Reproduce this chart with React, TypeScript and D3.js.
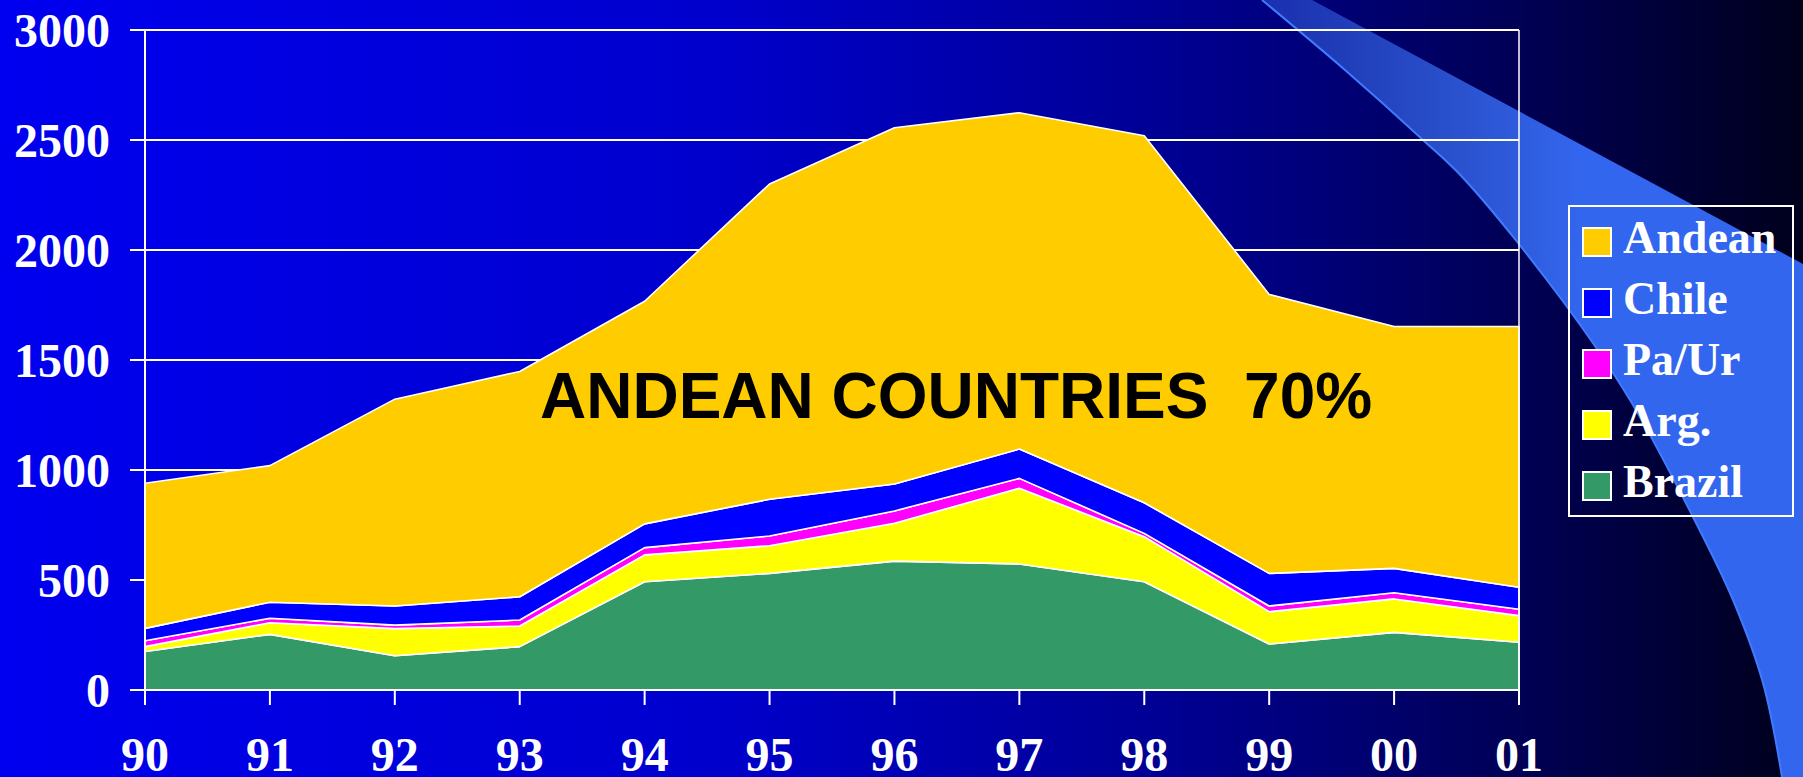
import React, { useEffect, useRef } from "react";
import * as d3 from "d3";

// values (thousands, stacked bottom -> top)
const years = ["90", "91", "92", "93", "94", "95", "96", "97", "98", "99", "00", "01"];
const brazil = [175, 253, 156, 197, 492, 530, 586, 573, 492, 209, 262, 217];
const arg = [22, 53, 123, 94, 122, 126, 172, 344, 205, 147, 152, 121];
const paur = [27, 20, 16, 27, 33, 44, 56, 45, 15, 26, 28, 29];
const chile = [56, 73, 87, 106, 108, 167, 122, 133, 139, 148, 111, 100];
const andean = [660, 621, 940, 1024, 1012, 1433, 1620, 1529, 1668, 1268, 1099, 1185];
const yTicks = [0, 500, 1000, 1500, 2000, 2500, 3000];

const seriesKeys = ["Brazil", "Arg.", "Pa/Ur", "Chile", "Andean"];
const seriesColors = ["#339966", "#FFFF00", "#FF00FF", "#0000FF", "#FFCC00"];
const legendKeys = ["Andean", "Chile", "Pa/Ur", "Arg.", "Brazil"];

const W = 1803;
const H = 777;
const serif = "'Liberation Serif', 'Times New Roman', serif";

export default function App() {
  const svgRef = useRef<SVGSVGElement>(null);

  useEffect(() => {
    const svg = d3.select(svgRef.current);
    svg.selectAll("*").remove();

    const rows = years.map((yr, i) => ({
      year: yr,
      Brazil: brazil[i],
      "Arg.": arg[i],
      "Pa/Ur": paur[i],
      Chile: chile[i],
      Andean: andean[i],
    }));

    const x = d3.scalePoint<string>().domain(years).range([145, 1519]);
    const y = d3.scaleLinear().domain([0, 3000]).range([690, 30]);

    const defs = svg.append("defs");
    const bg = defs.append("linearGradient").attr("id", "bg").attr("x1", 0).attr("x2", 1).attr("y1", 0).attr("y2", 0);
    [
      [0, "#0000F0"],
      [0.4, "#0000CC"],
      [0.65, "#000092"],
      [0.85, "#000052"],
      [1, "#00001C"],
    ].forEach(([o, c]) => bg.append("stop").attr("offset", o as number).attr("stop-color", c as string));

    const sw = defs.append("linearGradient").attr("id", "swoosh")
      .attr("gradientUnits", "userSpaceOnUse")
      .attr("x1", 1260).attr("x2", 1580).attr("y1", 0).attr("y2", 0);
    sw.append("stop").attr("offset", 0).attr("stop-color", "#3868E8").attr("stop-opacity", 0.45);
    sw.append("stop").attr("offset", 1).attr("stop-color", "#3366EE").attr("stop-opacity", 1);

    svg.append("rect").attr("width", W).attr("height", H).attr("fill", "url(#bg)");

    // decorative swoosh band on the right
    const leftEdge: [number, number][] = [
      [1262, 0], [1345, 70], [1423, 140], [1465, 180], [1562, 300],
      [1630, 400], [1693, 517], [1733, 600], [1763, 683], [1782, 777],
    ];
    const edge = d3.line().curve(d3.curveCatmullRom)(leftEdge) as string;
    svg.append("path")
      .attr("d", edge + "L1803,777L1803,264L1312,0Z")
      .attr("fill", "url(#swoosh)");
    svg.append("path")
      .attr("d", edge)
      .attr("fill", "none")
      .attr("stroke", "#3F7BFF")
      .attr("stroke-width", 2);

    // gridlines
    svg.append("g")
      .selectAll("line")
      .data(yTicks)
      .join("line")
      .attr("x1", 130)
      .attr("x2", x("01")!)
      .attr("y1", (d) => y(d))
      .attr("y2", (d) => y(d))
      .attr("stroke", "#fff")
      .attr("stroke-width", 2);

    // stacked areas
    const stack = d3.stack<any>().keys(seriesKeys);
    const layers = stack(rows);
    const area = d3.area<any>()
      .x((d) => x(d.data.year)!)
      .y0((d) => y(d[0]))
      .y1((d) => y(d[1]));

    svg.append("g")
      .selectAll("path")
      .data(layers)
      .join("path")
      .attr("d", (d) => area(d as any))
      .attr("fill", (_, i) => seriesColors[i])
      .attr("stroke", "#fff")
      .attr("stroke-width", 1.6)
      .attr("stroke-linejoin", "round");

    // axes frame
    svg.append("line").attr("x1", 145).attr("x2", 145).attr("y1", y(3000)).attr("y2", 705)
      .attr("stroke", "#fff").attr("stroke-width", 2);
    svg.append("line").attr("x1", 130).attr("x2", x("01")!).attr("y1", y(0)).attr("y2", y(0))
      .attr("stroke", "#fff").attr("stroke-width", 2);
    svg.append("line").attr("x1", x("01")!).attr("x2", x("01")!).attr("y1", y(3000)).attr("y2", 705)
      .attr("stroke", "#fff").attr("stroke-width", 1.5);

    svg.append("g")
      .selectAll("line")
      .data(years)
      .join("line")
      .attr("x1", (d) => x(d)!)
      .attr("x2", (d) => x(d)!)
      .attr("y1", y(0))
      .attr("y2", 705)
      .attr("stroke", "#fff")
      .attr("stroke-width", 2);

    // tick labels
    svg.append("g")
      .selectAll("text")
      .data(yTicks)
      .join("text")
      .attr("x", 110)
      .attr("y", (d) => y(d) + 17)
      .attr("text-anchor", "end")
      .attr("font-family", serif)
      .attr("font-weight", "bold")
      .attr("font-size", 48)
      .attr("fill", "#fff")
      .text((d) => d);

    svg.append("g")
      .selectAll("text")
      .data(years)
      .join("text")
      .attr("x", (d) => x(d)!)
      .attr("y", 771)
      .attr("text-anchor", "middle")
      .attr("font-family", serif)
      .attr("font-weight", "bold")
      .attr("font-size", 48)
      .attr("fill", "#fff")
      .text((d) => d);

    // annotation
    svg.append("text")
      .attr("x", 540)
      .attr("y", 418)
      .attr("font-family", "'Liberation Sans', Arial, sans-serif")
      .attr("font-weight", "bold")
      .attr("font-size", 64)
      .attr("fill", "#000")
      .style("white-space", "pre")
      .text("ANDEAN COUNTRIES  70%");

    // legend
    const lg = svg.append("g");
    lg.append("rect")
      .attr("x", 1569).attr("y", 206).attr("width", 224).attr("height", 310)
      .attr("fill", "none").attr("stroke", "#fff").attr("stroke-width", 2);
    const items = lg.selectAll("g.item")
      .data(legendKeys)
      .join("g")
      .attr("class", "item")
      .attr("transform", (_, i) => `translate(0,${i * 61})`);
    items.append("rect")
      .attr("x", 1583).attr("y", 228).attr("width", 28).attr("height", 28)
      .attr("fill", (d) => seriesColors[seriesKeys.indexOf(d)])
      .attr("stroke", "#fff").attr("stroke-width", 2);
    items.append("text")
      .attr("x", 1623).attr("y", 253)
      .attr("font-family", serif)
      .attr("font-weight", "bold")
      .attr("font-size", 46)
      .attr("fill", "#fff")
      .text((d) => d);
  }, []);

  return (
    <svg
      ref={svgRef}
      width={W}
      height={H}
      style={{ position: "fixed", left: 0, top: 0, display: "block" }}
    />
  );
}
